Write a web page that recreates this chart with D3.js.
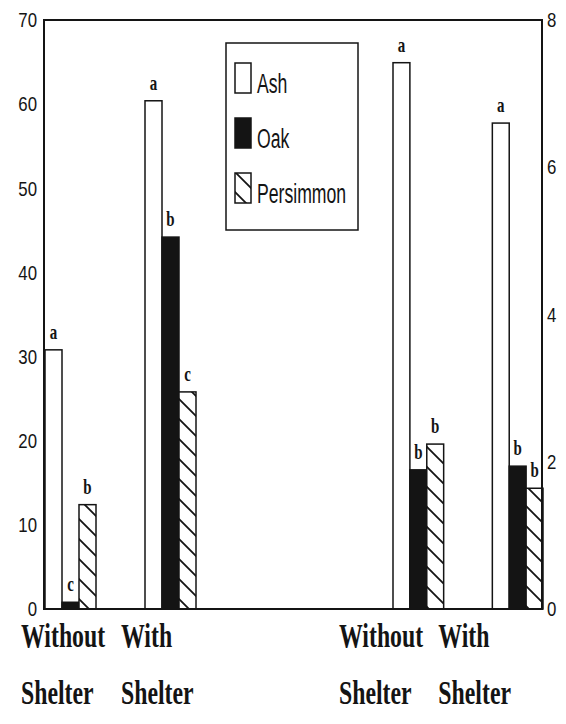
<!DOCTYPE html>
<html>
<head>
<meta charset="utf-8">
<script src="https://cdn.jsdelivr.net/npm/d3@7"></script>
<style>
  body { margin: 0; background: #fff; }
</style>
</head>
<body>
<script>
// data
var groups = ["Without Shelter", "With Shelter"];
var groupLines = [["Without", "Shelter"], ["With", "Shelter"]];
var species = ["Ash", "Oak", "Persimmon"];

// left panel (left axis, 0-70)
var ashLeft = [30.8, 60.4];
var oakLeft = [0.8, 44.2];
var persimmonLeft = [12.4, 25.8];
var lettersLeft = [["a", "c", "b"], ["a", "b", "c"]];

// right panel (right axis, 0-8)
var ashRight = [7.42, 6.6];
var oakRight = [1.89, 1.94];
var persimmonRight = [2.24, 1.64];
var lettersRight = [["a", "b", "b"], ["a", "b", "b"]];

var leftTicks = [0, 10, 20, 30, 40, 50, 60, 70];
var rightTicks = [0, 2, 4, 6, 8];

var width = 566, height = 724;
var plot = {left: 44, right: 542, top: 20, bottom: 609};
var ink = "#141414";
var sansFont = "'Liberation Sans', Arial, sans-serif";
var serifFont = "'Liberation Serif', 'Times New Roman', serif";

var svg = d3.select("body").append("svg")
    .attr("width", width)
    .attr("height", height);

// hatch for persimmon
var pat = svg.append("defs").append("pattern")
    .attr("id", "hatch")
    .attr("patternUnits", "userSpaceOnUse")
    .attr("width", 20).attr("height", 20);
pat.append("rect").attr("width", 20).attr("height", 20).attr("fill", "#fff");
pat.append("path")
    .attr("d", "M0,0L20,20M-5,15L5,25M15,-5L25,5")
    .attr("stroke", ink).attr("stroke-width", 1.8);

var fills = {Ash: "#fff", Oak: ink, Persimmon: "url(#hatch)"};

var yLeft = d3.scaleLinear().domain([0, 70]).range([plot.bottom, plot.top]);
var yRight = d3.scaleLinear().domain([0, 8]).range([plot.bottom, plot.top]);
var xLeft = d3.scaleBand().domain(groups).range([45, 196]).paddingInner(0.49);
var xRight = d3.scaleBand().domain(groups).range([393, 543]).paddingInner(0.49);

// squeeze text to look like the condensed faces of the original
function condense(sel, f) {
    sel.each(function () {
        var w = this.getComputedTextLength();
        d3.select(this).attr("textLength", w * f).attr("lengthAdjust", "spacingAndGlyphs");
    });
}

// same idea, but with a transform so the box shrinks too
function squeezedText(parent, x, y, f) {
    return parent.append("text")
        .attr("transform", "translate(" + x + "," + y + ") scale(" + f + ",1)");
}

function drawPanel(x, y, ash, oak, pers, letters, labelShift) {
    var sub = d3.scaleBand().domain(species).range([0, x.bandwidth()]);
    var rows = [];
    groups.forEach(function (g, gi) {
        [ash, oak, pers].forEach(function (vals, si) {
            rows.push({group: g, gi: gi, sp: species[si], value: vals[gi], letter: letters[gi][si]});
        });
    });

    var panel = svg.append("g");
    panel.selectAll("rect.bar").data(rows).enter().append("rect")
        .attr("class", "bar")
        .attr("x", d => x(d.group) + sub(d.sp))
        .attr("y", d => y(d.value))
        .attr("width", sub.bandwidth())
        .attr("height", d => y(0) - y(d.value))
        .attr("fill", d => fills[d.sp])
        .attr("stroke", ink)
        .attr("stroke-width", 1.5);

    var lett = panel.selectAll("text.letter").data(rows).enter().append("text")
        .attr("class", "letter")
        .attr("x", d => x(d.group) + sub(d.sp) + sub.bandwidth() / 2)
        .attr("y", d => y(d.value) - 11)
        .attr("text-anchor", "middle")
        .attr("font-family", serifFont)
        .attr("font-weight", "bold")
        .attr("font-size", 22)
        .attr("fill", ink)
        .text(d => d.letter);
    condense(lett, 0.68);

    // category labels under the axis
    groups.forEach(function (g, gi) {
        groupLines[gi].forEach(function (line, li) {
            squeezedText(svg, x(g) + labelShift, 647 + li * 57, 0.7)
                .attr("font-family", serifFont)
                .attr("font-weight", "bold")
                .attr("font-size", 34)
                .attr("fill", ink)
                .text(line);
        });
    });
}

drawPanel(xLeft, yLeft, ashLeft, oakLeft, persimmonLeft, lettersLeft, -24);
drawPanel(xRight, yRight, ashRight, oakRight, persimmonRight, lettersRight, -54);

// frame
svg.append("rect")
    .attr("x", plot.left).attr("y", plot.top)
    .attr("width", plot.right - plot.left)
    .attr("height", plot.bottom - plot.top)
    .attr("fill", "none")
    .attr("stroke", ink)
    .attr("stroke-width", 2);

// axes
var axL = svg.append("g")
    .attr("transform", "translate(" + plot.left + ",0)")
    .call(d3.axisLeft(yLeft).tickValues(leftTicks).tickSize(0).tickPadding(7));
var axR = svg.append("g")
    .attr("transform", "translate(" + plot.right + ",0)")
    .call(d3.axisRight(yRight).tickValues(rightTicks).tickSize(0).tickPadding(5));
[axL, axR].forEach(function (ax) {
    ax.select(".domain").remove();
    ax.attr("font-family", sansFont).attr("font-size", 21);
    ax.selectAll("text").attr("fill", ink);
    condense(ax.selectAll("text"), 0.8);
});

// legend
var legend = svg.append("g").attr("transform", "translate(226,43)");
legend.append("rect")
    .attr("width", 132).attr("height", 187)
    .attr("fill", "#fff")
    .attr("stroke", ink)
    .attr("stroke-width", 1.5);
species.forEach(function (s, i) {
    legend.append("rect")
        .attr("x", 9).attr("y", 20 + i * 55)
        .attr("width", 16).attr("height", 30)
        .attr("fill", fills[s])
        .attr("stroke", ink)
        .attr("stroke-width", 1.5);
    squeezedText(legend, 31, 50 + i * 55, 0.63)
        .attr("font-family", sansFont)
        .attr("font-size", 28)
        .attr("fill", ink)
        .text(s);
});
</script>
</body>
</html>
